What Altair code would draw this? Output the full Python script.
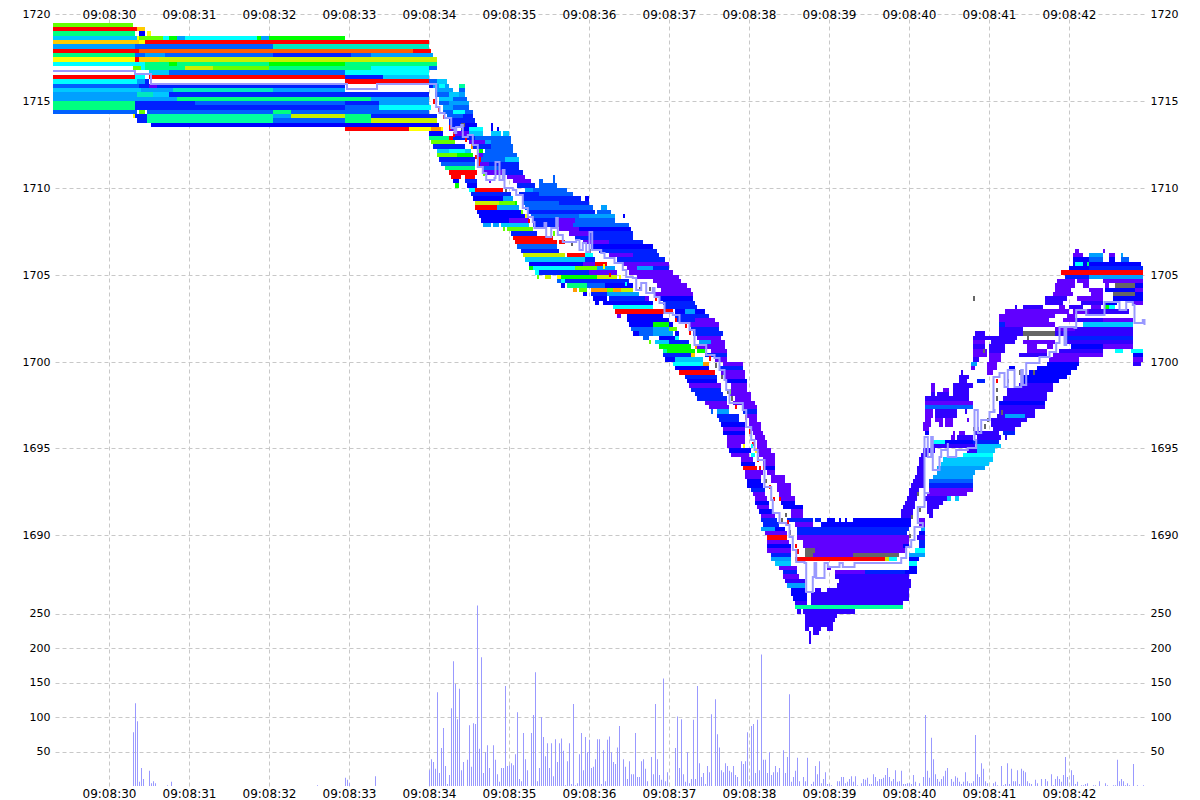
import altair as alt
import pandas as pd

# Time unit: one column = 25 ms, column 0 = 09:08:30. Price rows are 0.25 tall.
PALETTE = {"R": "#ff0000", "Y": "#ffff00", "O": "#ff9900", "A": "#ffcc00", "L": "#66ff00", "G": "#00ff00",
           "S": "#00ff80", "T": "#00ffa0", "E": "#00e8c0", "C": "#00ffff", "D": "#00c8ff", "M": "#00a0ff",
           "B": "#0060ff", "N": "#0020ff", "U": "#0000ff", "V": "#3000ff", "P": "#6000ff", "X": "#666666",
           "W": "#ffffff", "F": "#ff6000", "H": "#c8f000"}

LEFT_ROWS = [
 (1719.5,(-28,12,"L")),
 (1719.25,(-28,14,"R"),(14,18,"A")),
 (1719,(-28,13,"S"),(15,18,"U"),(19,21,"Y")),
 (1718.75,(-28,14,"D"),(14,15,"Y"),(15,27,"L"),(27,30,"C"),(30,34,"G"),(34,38,"M"),(38,74,"C"),(74,76,"G"),(76,80,"M"),(80,118,"G")),
 (1718.5,(-28,15,"A"),(15,18,"Y"),(18,160,"R")),
 (1718.25,(-28,13,"M"),(13,82,"B"),(82,121,"E"),(121,160,"E")),
 (1718,(-28,15,"R"),(15,152,"F"),(152,161,"R")),
 (1717.75,(-28,13,"S"),(13,18,"B"),(18,28,"M"),(28,82,"B"),(82,121,"N"),(121,131,"B"),(131,162,"M")),
 (1717.5,(-28,13,"Y"),(13,15,"R"),(15,25,"A"),(25,164,"H")),
 (1717.25,(-28,18,"C"),(18,30,"S"),(30,34,"G"),(34,80,"S"),(80,118,"G"),(118,164,"S")),
 (1717,(-28,12,"W"),(12,16,"L"),(16,18,"C"),(18,38,"S"),(38,52,"H"),(52,80,"L"),(80,131,"S"),(131,160,"C"),(160,164,"B")),
 (1716.75,(-28,20,"W"),(20,30,"D"),(30,118,"B"),(118,160,"C")),
 (1716.5,(-28,13,"R"),(13,18,"C"),(20,118,"R"),(118,137,"N"),(137,160,"D")),
 (1716.25,(-28,14,"C"),(14,18,"M"),(18,20,"N"),(20,118,"W"),(118,160,"R")),
 (1716,(-28,15,"B"),(15,20,"N"),(20,24,"P"),(24,118,"N"),(118,160,"W")),
 (1715.75,(-28,16,"D"),(16,32,"M"),(32,82,"E"),(82,118,"M"),(118,160,"W")),
 (1715.5,(-28,14,"M"),(14,22,"E"),(22,30,"D"),(30,160,"N")),
 (1715.25,(-28,34,"M"),(34,131,"S"),(131,160,"M")),
 (1715,(-28,13,"S"),(13,43,"N"),(43,118,"B"),(118,135,"N"),(135,160,"M")),
 (1714.75,(-28,13,"S"),(13,118,"N"),(118,135,"B"),(135,161,"C")),
 (1714.5,(-28,14,"B"),(15,18,"L"),(19,82,"B"),(82,91,"S"),(91,160,"B")),
 (1714.25,(12,13,"Y"),(13,19,"N"),(19,82,"T"),(82,91,"M"),(91,118,"H"),(118,131,"S"),(131,164,"N")),
 (1714,(14,19,"N"),(19,82,"T"),(82,118,"B"),(118,131,"S"),(131,164,"H")),
 (1713.75,(21,165,"U")),
 (1713.5,(118,150,"R"),(150,161,"Y"),(161,166,"O"),(166,167,"Y")),
]

FALL_ROWS = [
 (1716.25,(160,164,"B"),(164,169,"D")),
 (1716,(160,162,"N"),(162,165,"M"),(165,168,"C"),(168,170,"M"),(175,178,"T")),
 (1715.75,(163,172,"M"),(175,178,"B")),
 (1715.5,(163,170,"B"),(170,175,"D"),(175,178,"M")),
 (1715.25,(165,172,"D"),(172,179,"B")),
 (1715,(165,170,"B"),(170,180,"M")),
 (1714.75,(167,172,"M"),(172,180,"B")),
 (1714.5,(167,172,"B"),(172,178,"C"),(178,182,"B")),
 (1714.25,(169,177,"B"),(177,182,"N")),
 (1714,(170,183,"N")),
 (1713.75,(170,176,"N"),(176,178,"X"),(178,184,"U"),(191,192,"U")),
 (1713.5,(170,174,"P"),(176,180,"U"),(180,187,"C"),(191,192,"U"),(194,195,"U")),
 (1713.25,(160,167,"U"),(173,180,"P"),(180,187,"D"),(191,196,"D"),(197,200,"D")),
 (1713,(160,170,"S"),(170,172,"R"),(172,183,"N"),(183,201,"B")),
 (1712.75,(161,173,"L"),(180,188,"P"),(188,191,"M"),(191,201,"B")),
 (1712.5,(162,178,"N"),(182,191,"N"),(191,202,"B")),
 (1712.25,(164,170,"D"),(170,178,"C"),(178,181,"D"),(185,187,"G"),(188,202,"B")),
 (1712,(164,174,"L"),(174,182,"G"),(184,187,"P"),(187,204,"B")),
 (1711.75,(165,183,"N"),(184,186,"R"),(186,198,"B"),(198,205,"D")),
 (1711.5,(166,183,"B"),(185,190,"P"),(190,205,"N")),
 (1711.25,(168,183,"S"),(187,195,"B"),(195,205,"N")),
 (1711,(170,184,"R"),(187,197,"P"),(197,207,"N")),
 (1710.75,(171,176,"R"),(178,183,"R"),(199,208,"P"),(222,223,"B")),
 (1710.5,(172,175,"U"),(178,184,"N"),(202,211,"P"),(215,217,"B"),(222,223,"B")),
 (1710.25,(173,175,"G"),(179,184,"U"),(204,213,"N"),(215,224,"B")),
 (1710,(180,183,"C"),(183,197,"R"),(208,212,"M"),(212,229,"B")),
 (1709.75,(181,201,"N"),(205,215,"N"),(215,232,"B")),
 (1709.5,(182,197,"U"),(197,202,"M"),(207,236,"N"),(238,240,"U")),
 (1709.25,(183,195,"H"),(195,203,"L"),(207,225,"B"),(225,240,"N")),
 (1709,(183,194,"R"),(194,205,"M"),(208,242,"B"),(246,249,"M")),
 (1708.75,(184,207,"U"),(209,243,"N"),(244,251,"B")),
 (1708.5,(185,209,"U"),(211,235,"B"),(235,253,"M"),(257,258,"U")),
 (1708.25,(186,200,"U"),(200,210,"P"),(212,225,"N"),(225,233,"P"),(233,253,"B")),
 (1708,(187,191,"M"),(192,195,"M"),(196,210,"D"),(212,225,"N"),(225,232,"P"),(232,260,"B")),
 (1707.75,(197,198,"L"),(199,212,"L"),(225,235,"P"),(235,261,"U")),
 (1707.5,(201,214,"N"),(230,240,"P"),(240,262,"N")),
 (1707.25,(202,222,"R"),(233,262,"N")),
 (1707,(203,224,"R"),(225,228,"R"),(237,250,"P"),(250,267,"N")),
 (1706.75,(204,224,"B"),(241,272,"U")),
 (1706.5,(206,225,"N"),(245,274,"N")),
 (1706.25,(207,228,"H"),(229,238,"R"),(238,242,"C"),(250,262,"P"),(262,275,"N")),
 (1706,(208,238,"D"),(238,243,"N"),(254,278,"N")),
 (1705.75,(210,237,"U"),(237,243,"P"),(243,249,"R"),(257,280,"P")),
 (1705.5,(210,212,"G"),(212,233,"C"),(233,244,"L"),(244,253,"M"),(259,264,"P"),(264,272,"M"),(272,280,"N")),
 (1705.25,(213,215,"C"),(215,240,"N"),(240,254,"P"),(260,282,"P")),
 (1705,(214,215,"L"),(218,221,"H"),(224,226,"Y"),(226,244,"G"),(244,254,"H"),(264,285,"P")),
 (1704.75,(224,226,"B"),(226,228,"C"),(228,260,"N"),(272,286,"P")),
 (1704.5,(226,228,"U"),(229,239,"S"),(239,248,"B"),(248,262,"U"),(274,289,"P")),
 (1704.25,(232,234,"O"),(235,239,"L"),(241,249,"O"),(249,252,"L"),(252,256,"O"),(256,262,"H"),(276,291,"P")),
 (1704,(237,239,"U"),(241,249,"N"),(249,265,"M"),(273,292,"P")),
 (1703.75,(242,249,"U"),(250,268,"N"),(268,270,"P"),(275,292,"U")),
 (1703.5,(243,245,"U"),(247,250,"U"),(250,272,"U"),(277,293,"N")),
 (1703.25,(252,272,"C"),(278,294,"N")),
 (1703,(253,282,"R"),(283,288,"U"),(288,293,"M"),(293,298,"U")),
 (1702.75,(254,256,"P"),(259,277,"U"),(283,300,"N")),
 (1702.5,(259,280,"U"),(284,293,"N"),(293,303,"P")),
 (1702.25,(260,272,"U"),(272,280,"G"),(280,282,"U"),(290,305,"P")),
 (1702,(261,272,"B"),(272,280,"M"),(280,284,"L"),(291,305,"N")),
 (1701.75,(262,265,"U"),(265,272,"B"),(272,282,"M"),(283,285,"U"),(292,307,"N")),
 (1701.5,(267,270,"B"),(275,283,"U"),(283,285,"C"),(294,306,"P")),
 (1701.25,(270,271,"L"),(273,280,"D"),(280,290,"N"),(295,301,"M"),(301,308,"P")),
 (1701,(275,291,"G"),(294,308,"P")),
 (1700.75,(277,279,"T"),(279,293,"G"),(294,298,"G"),(301,309,"P")),
 (1700.5,(277,291,"N"),(291,293,"A"),(298,309,"N")),
 (1700.25,(278,283,"U"),(283,297,"D"),(303,309,"P")),
 (1700,(282,297,"C"),(297,300,"O"),(307,317,"P")),
 (1699.75,(283,300,"U"),(305,317,"N")),
 (1699.5,(285,303,"R"),(306,318,"P")),
 (1699.25,(288,304,"N"),(308,318,"P")),
 (1699,(289,304,"U"),(309,319,"U")),
 (1698.75,(290,306,"P"),(311,319,"P")),
 (1698.5,(291,306,"N"),(311,319,"P")),
 (1698.25,(293,307,"N"),(310,321,"P")),
 (1698,(294,309,"N"),(313,321,"P")),
 (1697.75,(298,309,"P"),(312,323,"P")),
 (1697.5,(300,310,"P"),(317,324,"P")),
 (1697.25,(301,302,"B"),(304,310,"M"),(317,324,"N")),
 (1697,(304,315,"N"),(319,324,"P")),
 (1696.75,(305,315,"N"),(320,324,"P")),
 (1696.5,(306,318,"U"),(320,326,"P")),
 (1696.25,(307,318,"P"),(321,326,"P")),
 (1696,(307,318,"U"),(322,327,"P")),
 (1695.75,(309,318,"P"),(323,328,"P")),
 (1695.5,(309,318,"P"),(324,329,"P")),
 (1695.25,(309,316,"P"),(317,318,"Y"),(324,329,"P")),
 (1695,(310,321,"U"),(324,331,"P")),
 (1694.75,(311,320,"P"),(321,323,"C"),(325,333,"P")),
 (1694.5,(316,322,"P"),(327,333,"P")),
 (1694.25,(316,323,"U"),(327,333,"P")),
 (1694,(317,324,"R"),(328,333,"U")),
 (1693.75,(318,327,"P"),(329,333,"P")),
 (1693.5,(318,326,"P"),(331,338,"P")),
 (1693.25,(319,326,"U"),(331,338,"P")),
 (1693,(319,327,"U"),(334,341,"P")),
 (1692.75,(321,328,"N"),(334,341,"P")),
 (1692.5,(322,328,"P"),(335,341,"P")),
 (1692.25,(323,329,"P"),(335,343,"P")),
 (1692,(323,330,"U"),(336,343,"U")),
 (1691.75,(324,330,"P"),(337,347,"U")),
 (1691.5,(325,332,"U"),(341,347,"P")),
 (1691.25,(326,333,"P"),(341,347,"P")),
 (1691,(326,334,"N"),(339,352,"N"),(353,356,"N"),(359,363,"U"),(365,366,"U"),(368,369,"U"),(372,400,"U")),
 (1690.75,(327,335,"N"),(343,352,"P"),(356,400,"U")),
 (1690.5,(326,333,"M"),(333,338,"U"),(344,400,"N")),
 (1690.25,(328,339,"P"),(344,399,"N")),
 (1690,(329,339,"R"),(344,400,"P")),
 (1689.75,(329,340,"P"),(347,400,"P"),(405,408,"N")),
 (1689.5,(329,341,"U"),(347,397,"P"),(397,400,"U"),(405,408,"N")),
 (1689.25,(329,341,"P"),(348,353,"X"),(353,398,"P"),(403,408,"C")),
 (1689,(331,341,"N"),(348,352,"X"),(352,372,"P"),(372,395,"X"),(400,408,"M")),
 (1688.75,(331,341,"M"),(343,388,"R"),(388,390,"H"),(390,394,"C"),(400,405,"U")),
 (1688.5,(333,341,"D"),(400,404,"C")),
 (1688.25,(335,344,"P"),(359,361,"P"),(400,404,"U")),
 (1688,(337,344,"N"),(363,378,"P"),(378,398,"N"),(398,404,"U")),
 (1687.75,(337,345,"P"),(363,400,"V")),
 (1687.5,(338,348,"V"),(365,401,"V")),
 (1687.25,(339,348,"M"),(364,401,"V")),
 (1687,(341,348,"U"),(353,356,"V"),(359,400,"V")),
 (1686.75,(341,349,"U"),(351,400,"V")),
 (1686.5,(342,349,"U"),(351,400,"V")),
 (1686.25,(343,349,"V"),(351,397,"V")),
 (1686,(343,397,"T")),
 (1685.75,(344,346,"V"),(347,373,"V")),
 (1685.5,(348,364,"V")),
 (1685.25,(348,363,"V")),
 (1685,(348,362,"V")),
 (1684.75,(348,350,"V"),(352,356,"V"),(359,362,"V")),
 (1684.5,(350,351,"V"),(352,355,"V")),
 (1684.25,(350,351,"V")),
 (1684,(350,351,"V")),
]

RISE_ROWS = [
 (1706.5,(483,485,"P"),(497,498,"P")),
 (1706.25,(482,487,"P"),(490,497,"M"),(500,503,"P"),(506,507,"M")),
 (1706,(482,490,"U"),(490,497,"B"),(500,503,"U"),(506,510,"B")),
 (1705.75,(482,483,"U"),(483,487,"C"),(487,489,"U"),(489,490,"S"),(490,516,"U")),
 (1705.5,(480,490,"U"),(490,517,"N")),
 (1705.25,(476,517,"R")),
 (1705,(478,490,"N"),(490,517,"M")),
 (1704.75,(474,483,"P"),(484,490,"P"),(497,517,"P")),
 (1704.5,(473,483,"P"),(487,490,"P"),(498,500,"P"),(503,513,"X"),(513,517,"U")),
 (1704.25,(473,481,"P"),(490,497,"P"),(498,513,"U"),(513,517,"P")),
 (1704,(472,482,"P"),(491,497,"P"),(502,513,"X"),(513,517,"U")),
 (1703.75,(468,479,"V"),(484,497,"P"),(502,517,"U")),
 (1703.5,(468,477,"V"),(486,497,"V"),(498,504,"U"),(512,517,"P")),
 (1703.25,(453,454,"V"),(457,467,"V"),(475,478,"P"),(480,487,"V"),(491,496,"P"),(498,500,"G"),(500,503,"C")),
 (1703,(448,480,"P"),(482,490,"P"),(490,510,"V")),
 (1702.75,(445,473,"P"),(479,483,"P")),
 (1702.5,(445,470,"P"),(477,483,"P"),(483,497,"V"),(497,512,"P")),
 (1702.25,(445,448,"N"),(448,473,"P"),(487,512,"D")),
 (1702,(445,457,"V"),(473,483,"P"),(483,512,"V")),
 (1701.75,(433,438,"V"),(445,457,"V"),(457,473,"X"),(473,512,"V")),
 (1701.5,(432,454,"V"),(478,512,"N")),
 (1701.25,(432,438,"P"),(441,453,"V"),(457,473,"P"),(478,512,"V")),
 (1701,(432,438,"V"),(440,448,"V"),(459,464,"P"),(469,472,"P"),(481,497,"U"),(497,512,"P")),
 (1700.75,(432,439,"P"),(440,448,"V"),(459,469,"P"),(475,497,"V"),(503,507,"C"),(511,517,"C")),
 (1700.5,(432,439,"P"),(440,446,"P"),(455,469,"V"),(472,497,"P"),(512,517,"U")),
 (1700.25,(432,435,"V"),(440,446,"P"),(470,485,"P"),(512,517,"P")),
 (1700,(431,434,"M"),(439,444,"P"),(469,485,"U"),(512,516,"V")),
 (1699.75,(431,433,"P"),(439,444,"P"),(450,453,"U"),(464,484,"U")),
 (1699.5,(426,427,"V"),(439,442,"P"),(460,481,"U")),
 (1699.25,(425,430,"V"),(456,479,"U")),
 (1699,(425,429,"V"),(434,438,"N"),(456,475,"U")),
 (1698.75,(411,413,"P"),(422,432,"V"),(455,472,"V")),
 (1698.5,(411,413,"P"),(417,420,"P"),(422,430,"V"),(449,472,"V")),
 (1698.25,(411,413,"V"),(414,420,"V"),(422,430,"V"),(449,469,"V")),
 (1698,(408,430,"V"),(447,469,"V")),
 (1697.75,(408,432,"P"),(445,468,"U")),
 (1697.5,(408,432,"B"),(445,468,"V")),
 (1697.25,(408,412,"P"),(413,424,"V"),(428,429,"V"),(445,463,"V")),
 (1697,(408,412,"P"),(413,424,"V"),(444,448,"V"),(448,458,"M"),(458,463,"V")),
 (1696.75,(408,411,"P"),(413,417,"P"),(418,422,"P"),(429,430,"P"),(441,459,"V")),
 (1696.5,(407,411,"P"),(415,417,"P"),(418,422,"P"),(441,456,"V")),
 (1696.25,(407,410,"P"),(434,435,"V"),(442,453,"V")),
 (1696,(408,410,"U"),(422,423,"P"),(425,428,"P"),(433,445,"V"),(447,453,"N")),
 (1695.75,(421,423,"P"),(424,432,"V"),(434,446,"V"),(448,449,"V")),
 (1695.5,(411,418,"C"),(418,432,"U"),(432,445,"N")),
 (1695.25,(411,433,"V"),(434,446,"D")),
 (1695,(407,413,"V"),(429,434,"V"),(434,443,"D")),
 (1694.75,(406,409,"V"),(427,442,"C")),
 (1694.5,(405,408,"V"),(417,442,"D")),
 (1694.25,(405,408,"V"),(416,440,"D")),
 (1694,(404,408,"V"),(414,438,"M")),
 (1693.75,(404,408,"V"),(414,433,"M")),
 (1693.5,(403,408,"V"),(412,432,"M")),
 (1693.25,(402,408,"V"),(410,432,"B")),
 (1693,(401,408,"V"),(410,432,"N")),
 (1692.75,(400,405,"V"),(410,432,"P")),
 (1692.5,(400,404,"V"),(409,429,"P")),
 (1692.25,(399,404,"V"),(408,419,"V"),(419,421,"D"),(423,425,"D")),
 (1692,(398,403,"V"),(409,417,"V")),
 (1691.75,(397,403,"V"),(409,415,"V")),
 (1691.5,(396,402,"V"),(409,412,"V")),
 (1691.25,(396,402,"V"),(410,412,"V")),
 (1691,(400,401,"U"),(405,408,"P")),
 (1690.75,(400,401,"U"),(405,408,"P")),
 (1690.5,(406,408,"M")),
 (1690.25,(405,408,"U")),
 (1690,(404,408,"V")),
]

CELL_COLS = [162,164.5,167,170,172,178,181,183,184.5,176,187,190,198,203,206,208,209.5,222,226,231,240,247,250,255,258,265,270,273,278,283,288,290,293,300,303,306,309,310,311,313,318,320,321.5,321,323,324,325,327,328,330,332,335,338,336,339,340,343,344,443.5,443.5,443.5,449,455,462,439,437.5,446,405,401,404,400,437,432,459,432]
CELL_PRICES = [1715.1,1714.6,1714.2,1713.6,1713.2,1712.9,1712.5,1711.9,1711.5,1713.6,1710.9,1710.5,1710,1709.25,1708.75,1708.5,1708.2,1707.5,1707,1706.9,1706.5,1705.6,1705.1,1705,1704.6,1704.3,1704.3,1703.75,1703,1702.5,1702.2,1701.8,1701,1700.3,1699.9,1699.25,1698.4,1698.4,1698,1697.5,1696.9,1696.1,1695.4,1695.25,1695,1694.5,1694,1694,1693.25,1692.9,1692.2,1692.2,1691.3,1691,1690.9,1690.3,1689.5,1689.2,1699,1698.5,1698,1699,1699.5,1699.5,1696.75,1696.4,1697.2,1691.6,1691.2,1692.5,1690.1,1700.75,1696.25,1701.5,1703.75]
CELL_COLORS = list("RRRRRRORRXLPXGLYRLRXXYRYCXXRRRRRORXXXLXRRRRCYRRRXRRRXXRXRRRXXXXXXXXXXXXXXXXS")

TRADE_COLS = [-28,12,13,20,21,118,119,133,134,160,163.6,165.25,167.75,171.1,172.75,173.6,176.1,176.9,179.4,181.9,184.4,186.9,188.6,192.75,193.25,195.25,196.9,197.75,201.9,203.6,206.9,209.4,211.9,212.75,217.75,218.6,221.1,223.6,224.4,226.9,233.6,235.25,236.9,238.6,240.25,241.6,246.1,247.75,251.9,252.75,256.9,258.6,261.9,263.6,266.1,268.6,271.9,272.75,275.25,277.75,281.9,285.25,290.25,292.75,298.6,302.75,305.25,307.75,308.6,310.25,316.9,318.6,321.1,322.75,324.4,327.75,327.75,331.1,331.9,335.25,338.6,340.25,341.9,343.6,347.75,348.6,351.9,352.75,353.6,357.75,359.4,365.25,366.9,371.9,372.75,395.25,396.1,398.6,401.1,402.75,406.9,404.4,407.75,410.25,407.75,409.4,411.1,411.9,415.25,416.1,419.4,419.4,423.6,429.4,433.6,432.75,434.4,436.1,440.25,442.75,442.25,445.25,447.75,449.4,452.75,456.1,456.9,458.6,465.25,470.25,473.6,475.25,478.6,477.75,482.75,483.6,488.6,496.9,497.75,503.6,505.25,508.6,511.9,512.75,516.9,517.75]
TRADE_PRICES = [1716.72,1716.72,1716.52,1716.52,1716,1716,1715.71,1715.71,1715.97,1715.97,1714.67,1714.28,1714.0,1713.42,1713.13,1713.51,1713.61,1712.94,1713.04,1712.46,1711.21,1710.83,1710.45,1710.54,1711.5,1710.45,1711.02,1709.97,1709.87,1709.58,1708.82,1708.34,1708.05,1707.67,1707.95,1707.19,1707.67,1708.24,1707.28,1706.9,1707.0,1706.42,1706.8,1706.32,1707.47,1706.42,1706.23,1705.94,1705.94,1705.65,1705.27,1704.88,1704.79,1704.12,1704.5,1703.93,1704.21,1703.73,1703.35,1702.77,1702.68,1702.2,1701.82,1700.96,1700.38,1700.19,1699.52,1698.94,1698.37,1697.6,1697.2,1696.26,1695.49,1694.91,1694.34,1693.67,1692.8,1692.04,1691.27,1690.7,1690.6,1689.93,1689.16,1688.49,1688.43,1686.76,1687.63,1688.39,1687.53,1688.39,1688.2,1688.39,1688.2,1688.2,1688.43,1688.43,1688.68,1689.35,1689.73,1690.5,1690.69,1691.65,1692.42,1692.42,1695.68,1694.53,1695.68,1693.76,1694.53,1694.91,1695.3,1694.53,1694.91,1695.0,1695.49,1697.21,1695.87,1696.64,1697.12,1697.21,1699.13,1699.32,1698.56,1699.52,1698.56,1699.52,1698.65,1699.9,1700.28,1700.57,1701.05,1702.0,1700.95,1702.0,1701.91,1702.97,1702.68,1702.68,1703.45,1703.45,1702.97,1703.45,1703.26,1702.2,1702.39,1702.1]

VOL_EARLY_COLS = [12,13,14,15,16,17,20,21,22,23,29,31,104,118,119,120,133]
VOL_EARLY = [78,120,94,6,26,10,22,4,7,4,1,6,1,12,9,4,14]
VOL_FROM_160 = [23,39,35,25,136,19,55,84,29,3,16,113,181,148,97,141,23,35,0,38,88,28,91,90,262,54,187,19,49,59,26,0,59,38,17,6,26,26,145,29,30,33,30,46,107,10,7,77,39,23,0,77,103,165,7,26,100,71,43,62,26,62,14,68,35,62,69,51,1,36,62,3,119,1,4,46,77,23,71,49,67,26,28,39,68,68]
VOL_FROM_246 = [3,52,7,67,72,49,35,32,56,87,0,39,28,10,36,17,17,77,13,13,36,39,25,7,0,42,17,119,39,16,9,156,7,20,0,0,0,55,101,26,97,17,6,49,4,10,96,10,145,33,13,19,3,29,20,104,0,126,75,56,23,20,33,29,22,20,29,16,13,0,36,32,36,78,7,87,90,19,96,23,191,38,38,19,49,16,20,29,20,26,0,52,19,42,133,6,13,22,41,7,0,13,7,41,0,3,6,29,17,36,4,10,20,3,3,1,0,0,7,7,13,13,4,6,10,14,6,14,1,0,4,10,9,12,3,3,17,13,7,10,10,12,16,26,13,7,10,23,6,7,22,3,3,4,4,3,16,6,0,4,0,13,103,22,12,70,39,17,10,6,10,14,22,26,0,10,6,14,12,6,3,6,20,7,4,4,7,74,17,13,33,25,7,4,0,0,4,6,1,0,29,1,3,33,3,25,7,7,23,3,25,22,20,7,4,3,0,9,4,0,10,0,10,7,0,17,1,10,14,10,6,16,42,13,0,23,16,3,6,0,1,1,3,4,0,0,1,1,0,7,0,0,4,1,0,0,1,1,38,7,10,7,1,4,1,0,32,0,1,0,0,1]

PRICE_TICKS = [1720,1715,1710,1705,1700,1695,1690]
VOL_TICKS = [250,200,150,100,50]
SECOND_TICKS = [0,40,80,120,160,200,240,280,320,360,400,440,480]

bands = []
for row in LEFT_ROWS + FALL_ROWS + RISE_ROWS:
    for c0, c1, k in row[1:]:
        bands.append(dict(c0=c0, c1=c1, p0=row[0], p1=row[0] - 0.25, color=PALETTE[k]))
for c, p, k in zip(CELL_COLS, CELL_PRICES, CELL_COLORS):
    bands.append(dict(c0=c, c1=c + 1, p0=p, p1=p - 0.25, color=PALETTE[k]))
bands = pd.DataFrame(bands)

cols = VOL_EARLY_COLS + list(range(160, 160 + len(VOL_FROM_160))) + list(range(246, 246 + len(VOL_FROM_246)))
vols = VOL_EARLY + VOL_FROM_160 + VOL_FROM_246
volume = pd.DataFrame({"c0": cols, "v": vols})
volume = volume[volume.v > 0]
volume["c1"] = volume.c0 + 0.5
volume["zero"] = 0

trade = pd.DataFrame({"c": TRADE_COLS, "p": TRADE_PRICES, "i": range(len(TRADE_COLS))})

X_SCALE = alt.Scale(domain=[-27, 518], range=[0, 1090], nice=False, zero=False)
P_SCALE = alt.Scale(domain=[1675.58, 1720], nice=False, zero=False, round=True)
V_SCALE = alt.Scale(domain=[0, 1120.4], nice=False, zero=False)

GRID = dict(gridColor="#c8c8c8", gridDash=[4, 3], gridWidth=1, gridOpacity=1)
TXT = dict(title=None, domain=False, ticks=False, labelFont="DejaVu Sans", labelColor="#000000",
           labelOverlap=False, labelBound=False, labelFlush=False)
TIME_EXPR = "'09:08:' + (30 + datum.value / 40)"

heat = alt.Chart(bands).mark_rect(strokeWidth=0).encode(
    x=alt.X("c0:Q", scale=X_SCALE, axis=alt.Axis(orient="top", values=SECOND_TICKS, labelExpr=TIME_EXPR, labelFontSize=12,
                                                  labelPadding=-7, grid=True, **GRID, **TXT)),
    x2="c1:Q",
    y=alt.Y("p0:Q", scale=P_SCALE, axis=alt.Axis(orient="left", values=PRICE_TICKS, labelFontSize=11, labelPadding=5,
                                                  format="d", grid=True, **GRID, **TXT)),
    y2="p1:Q",
    color=alt.Color("color:N", scale=None),
)

price_right = alt.Chart(pd.DataFrame({"p": PRICE_TICKS})).mark_point(opacity=0).encode(
    x=alt.value(0),
    y=alt.Y("p:Q", scale=P_SCALE, axis=alt.Axis(orient="right", values=PRICE_TICKS, labelFontSize=11, labelPadding=5,
                                                 format="d", grid=False, **TXT)),
)

bars = alt.Chart(volume).mark_rect(color="#9999ff", strokeWidth=0).encode(
    x=alt.X("c0:Q", scale=X_SCALE, axis=alt.Axis(orient="bottom", values=SECOND_TICKS, labelExpr=TIME_EXPR, labelFontSize=12,
                                                  labelPadding=2, grid=False, **TXT)),
    x2="c1:Q",
    y=alt.Y("v:Q", scale=V_SCALE, axis=alt.Axis(orient="left", values=VOL_TICKS, labelFontSize=11, labelPadding=5,
                                                 grid=True, **GRID, **TXT)),
    y2="zero:Q",
)

vol_right = alt.Chart(pd.DataFrame({"v": VOL_TICKS})).mark_point(opacity=0).encode(
    x=alt.value(0),
    y=alt.Y("v:Q", scale=V_SCALE, axis=alt.Axis(orient="right", values=VOL_TICKS, labelFontSize=11, labelPadding=5,
                                                 grid=False, **TXT)),
)

line = alt.Chart(trade).mark_line(color="#9999ff", strokeWidth=2, interpolate="step-after").encode(
    x=alt.X("c:Q", scale=X_SCALE, axis=None),
    y=alt.Y("p:Q", scale=P_SCALE, axis=None),
    order="i:Q",
)

chart = alt.layer(heat, price_right, bars, vol_right, line).resolve_scale(y="independent").resolve_axis(
    x="independent", y="independent"
).properties(
    width=1090, height=772,
    padding={"left": 47, "top": 6, "right": 47, "bottom": 14},
    autosize=alt.AutoSizeParams(type="none"),
    background="white",
).configure_view(stroke=None)

chart.save("out.html", embed_options={"renderer": "svg", "actions": False})
